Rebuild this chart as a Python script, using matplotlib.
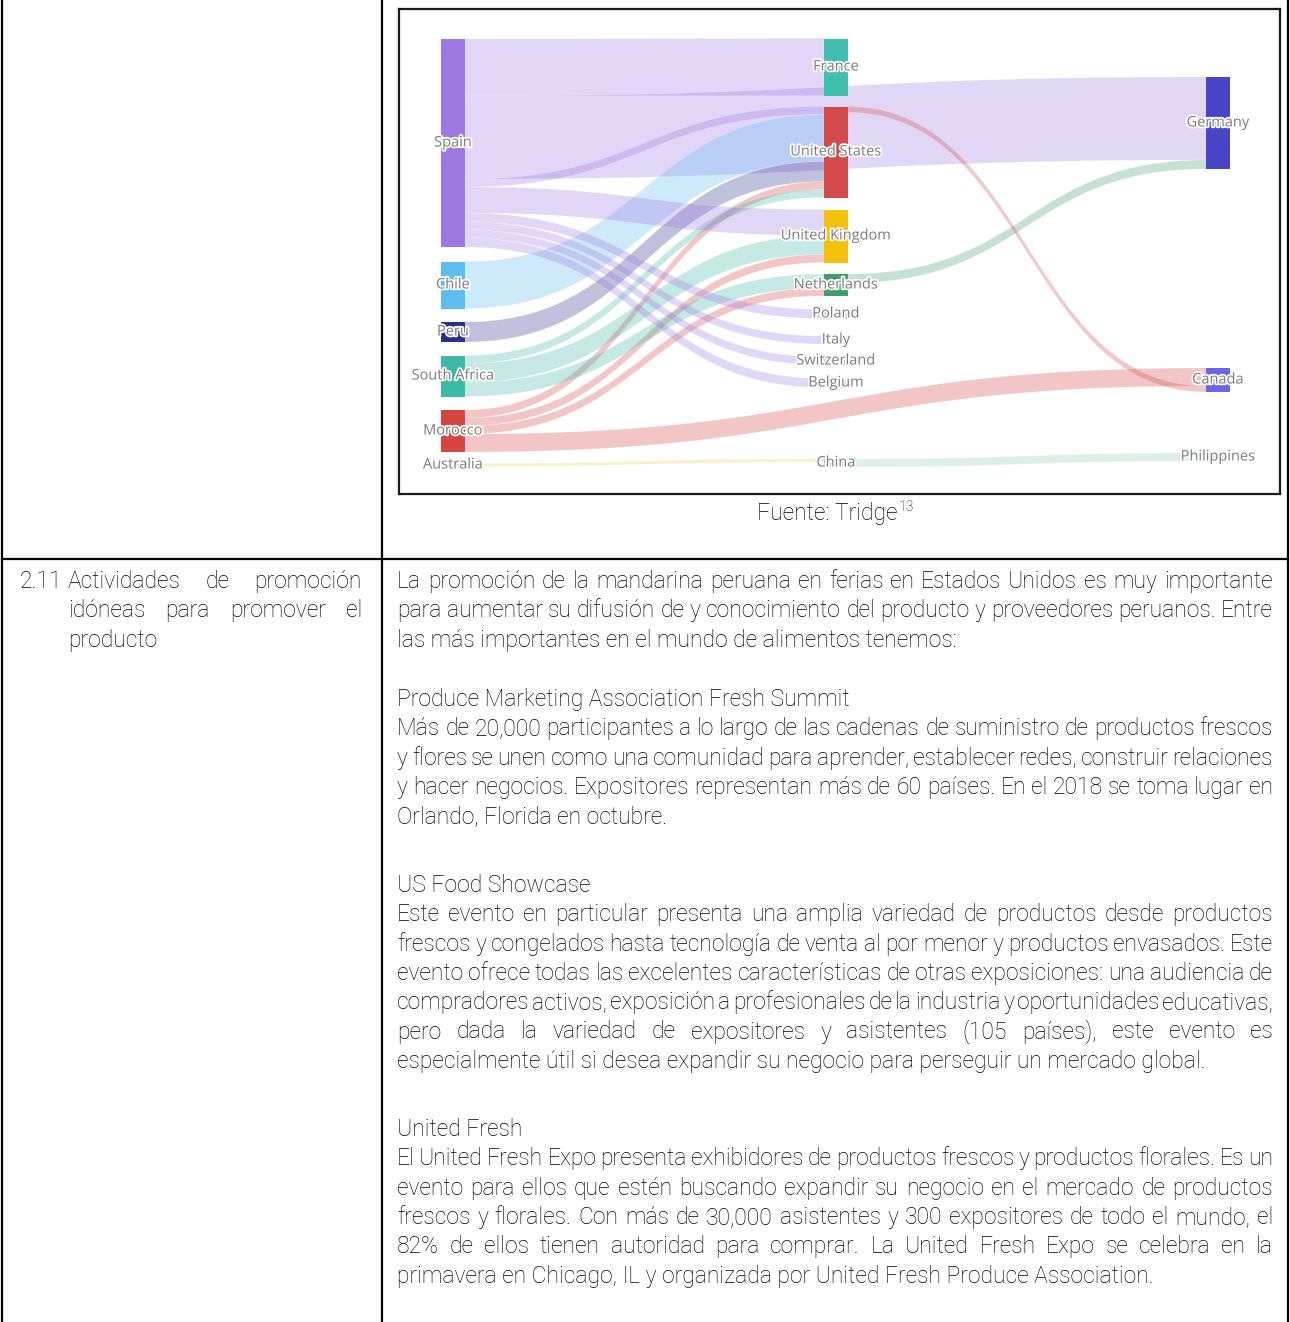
import matplotlib
matplotlib.use('Agg')
import matplotlib.pyplot as plt
from matplotlib.patches import Rectangle, Polygon
import matplotlib.patheffects as pe
import numpy as np

node_names = ['Spain', 'Chile', 'Peru', 'South Africa', 'Morocco', 'Australia',
              'France', 'United States', 'United Kingdom', 'Netherlands', 'Poland',
              'Italy', 'Switzerland', 'Belgium', 'China',
              'Germany', 'Canada', 'Philippines']
node_colors = ['#9c78e3', '#5cbcf0', '#2b2f8c', '#3cb8a6', '#d64541', '#f0d040',
               '#3fbfb0', '#d24a4a', '#f4c20d', '#3f9e6a', '#8fb8e8',
               '#c8b8f0', '#c8b8f0', '#c8b8f0', '#8fd0b0',
               '#4845c8', '#6f63e8', '#a0c8c0']

link_source = ['Spain', 'Spain', 'Spain', 'Chile', 'Peru', 'Morocco', 'South Africa',
               'Spain', 'South Africa', 'Morocco', 'South Africa', 'Morocco',
               'Spain', 'Spain', 'Spain', 'Spain',
               'Netherlands', 'Morocco', 'United States', 'Australia', 'China']
link_target = ['France', 'Germany', 'United States', 'United States', 'United States',
               'United States', 'United States', 'United Kingdom', 'United Kingdom',
               'United Kingdom', 'Netherlands', 'Netherlands',
               'Poland', 'Italy', 'Switzerland', 'Belgium',
               'Germany', 'Canada', 'Canada', 'China', 'Philippines']
link_value = [57, 83, 8, 47, 20, 8, 8, 26, 19, 8, 14, 8, 9, 8, 8, 9, 9, 18, 6, 3, 8]

# layout of the nodes (column and vertical centre, in page pixels)
node_col = [0, 0, 0, 0, 0, 0, 1, 1, 1, 1, 1, 1, 1, 1, 1, 2, 2, 2]
node_cy = [143, 285, 332, 376, 431, 465,
           67, 152, 236, 285, 314, 340, 361, 383, 463,
           123, 380, 457]
col_x = [441, 824, 1206]
node_w = 24

# ---- document text ----
left_first = '2.11'
left_lines = ['Actividades de promoción', 'idóneas para promover el', 'producto']

blocks = [
    ['La promoción de la mandarina peruana en ferias en Estados Unidos es muy importante',
     'para aumentar su difusión de y conocimiento del producto y proveedores peruanos. Entre',
     'las más importantes en el mundo de alimentos tenemos:'],
    ['Produce Marketing Association Fresh Summit',
     'Más de 20,000 participantes a lo largo de las cadenas de suministro de productos frescos',
     'y flores se unen como una comunidad para aprender, establecer redes, construir relaciones',
     'y hacer negocios. Expositores representan más de 60 países. En el 2018 se toma lugar en',
     'Orlando, Florida en octubre.'],
    ['US Food Showcase',
     'Este evento en particular presenta una amplia variedad de productos desde productos',
     'frescos y congelados hasta tecnología de venta al por menor y productos envasados. Este',
     'evento ofrece todas las excelentes características de otras exposiciones: una audiencia de',
     'compradores activos, exposición a profesionales de la industria y oportunidades educativas,',
     'pero dada la variedad de expositores y asistentes (105 países), este evento es',
     'especialmente útil si desea expandir su negocio para perseguir un mercado global.'],
    ['United Fresh',
     'El United Fresh Expo presenta exhibidores de productos frescos y productos florales. Es un',
     'evento para ellos que estén buscando expandir su negocio en el mercado de productos',
     'frescos y florales. Con más de 30,000 asistentes y 300 expositores de todo el mundo, el',
     '82% de ellos tienen autoridad para comprar. La United Fresh Expo se celebra en la',
     'primavera en Chicago, IL y organizada por United Fresh Produce Association.'],
]
block_has_heading = [False, True, True, True]
block_top = [588, 706, 892, 1136]
line_h = 29.3

W, H = 1290, 1322
fig = plt.figure(figsize=(W / 100, H / 100), dpi=100)
page = fig.add_axes([0, 0, 1, 1])
page.set_xlim(0, W)
page.set_ylim(H, 0)
page.axis('off')
renderer = fig.canvas.get_renderer()

body_font = ['Roboto', 'DejaVu Sans']
body = dict(fontsize=16.5, color='#000000', va='baseline', fontweight='light',
            family=body_font)


def text_width(t):
    return t.get_window_extent(renderer).width


def draw_line(line, x0, x1, y, justify):
    if not justify:
        page.text(x0, y, line, **body)
        return
    words = line.split()
    texts = [page.text(0, y, w, **body) for w in words]
    widths = [text_width(t) for t in texts]
    gap = (x1 - x0 - sum(widths)) / (len(words) - 1)
    x = x0
    for t, w in zip(texts, widths):
        t.set_x(x)
        x += w + gap


# table grid
for x in [2, 382, 1288]:
    page.plot([x, x], [0, H], color='black', lw=1.6)
page.plot([2, 1288], [559, 559], color='black', lw=1.6)

# left cell
page.text(20, block_top[0], left_first, **body)
for i, line in enumerate(left_lines):
    draw_line(line, 68, 362, block_top[0] + i * line_h, i < len(left_lines) - 1)

# right cell
for lines, heading, y0 in zip(blocks, block_has_heading, block_top):
    for i, line in enumerate(lines):
        just = i < len(lines) - 1 and not (heading and i == 0)
        draw_line(line, 397, 1273, y0 + i * line_h, just)

# source note
src = page.text(757, 520, 'Fuente: Tridge', **body)
page.text(757 + text_width(src) + 1, 511, '13', fontsize=10, color='#000000',
          va='baseline', fontweight='light', family=body_font)

# ---- sankey ----
bx0, bx1, by0, by1 = 399, 1280, 9, 494
ax = fig.add_axes([bx0 / W, 1 - by1 / H, (bx1 - bx0) / W, (by1 - by0) / H])
ax.set_xlim(bx0, bx1)
ax.set_ylim(by1, by0)
ax.set_xticks([])
ax.set_yticks([])
for s in ax.spines.values():
    s.set_linewidth(1.6)
    s.set_color('#1a1a1a')

idx = {n: i for i, n in enumerate(node_names)}
n_in = np.zeros(len(node_names))
n_out = np.zeros(len(node_names))
for s, t, v in zip(link_source, link_target, link_value):
    n_out[idx[s]] += v
    n_in[idx[t]] += v
node_h = np.maximum(n_in, n_out)
node_top = np.array(node_cy) - node_h / 2

off_out = node_top.copy()
off_in = node_top.copy()
tt = np.linspace(0, 1, 60)
for s, t, v in zip(link_source, link_target, link_value):
    i, j = idx[s], idx[t]
    xa = col_x[node_col[i]] + node_w
    xb = col_x[node_col[j]]
    xm = (xa + xb) / 2
    ya, yb = off_out[i], off_in[j]
    off_out[i] += v
    off_in[j] += v
    bx = (1 - tt) ** 3 * xa + 3 * (1 - tt) ** 2 * tt * xm + 3 * (1 - tt) * tt ** 2 * xm + tt ** 3 * xb
    by = (1 - tt) ** 3 + 3 * (1 - tt) ** 2 * tt
    top = ya * by + yb * (1 - by)
    bot = top + v
    pts = np.vstack([np.column_stack([bx, top]), np.column_stack([bx[::-1], bot[::-1]])])
    ax.add_patch(Polygon(pts, closed=True, facecolor=node_colors[i], alpha=0.3,
                         edgecolor='white', lw=0.4, zorder=1))

for k, name in enumerate(node_names):
    x = col_x[node_col[k]]
    ax.add_patch(Rectangle((x, node_top[k]), node_w, node_h[k],
                           facecolor=node_colors[k], edgecolor='none', zorder=2))
    ax.text(x + node_w / 2, node_cy[k], name, ha='center', va='center', fontsize=10.5,
            color='#7a7a7a', family=['Open Sans', 'DejaVu Sans'], zorder=3,
            path_effects=[pe.withStroke(linewidth=2.5, foreground='white')])

fig.savefig('out.png', dpi=100)
